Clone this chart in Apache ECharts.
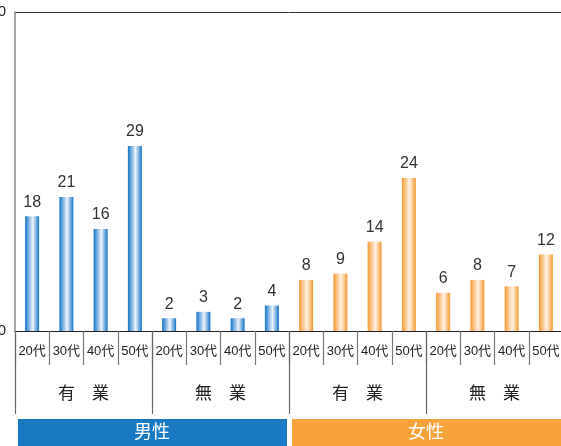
<!DOCTYPE html>
<html><head><meta charset="utf-8">
<script src="https://cdn.jsdelivr.net/npm/echarts@6/dist/echarts.min.js"></script>
<style>html,body{margin:0;padding:0;background:#fff}#c{width:561px;height:446px}</style>
</head><body><div id="c"></div>
<script>
var ages = ['20代','30代','40代','50代','20代','30代','40代','50代','20代','30代','40代','50代','20代','30代','40代','50代'];
var groups = ['有　業','無　業','有　業','無　業'];
var male = [18,21,16,29,2,3,2,4];
var female = [8,9,14,24,6,8,7,12];
var yTicks = [0,50];

var maleData = male.concat(female.map(function(){return null;}));
var femaleData = male.map(function(){return null;}).concat(female);
var FONT = 'Liberation Sans, Arial, Noto Sans CJK JP, sans-serif';

function grad(edge, mid){
  return new echarts.graphic.LinearGradient(0,0,1,0,[
    {offset:0,color:edge},{offset:0.55,color:mid},{offset:1,color:edge}]);
}
var chart = echarts.init(document.getElementById('c'));
chart.setOption({
  animation:false,
  grid:{left:15,right:-2,top:12,bottom:115,containLabel:false,outerBoundsMode:'none'},
  xAxis:[{
    type:'category',data:ages,position:'bottom',
    axisLine:{show:true,lineStyle:{color:'#222',width:1}},
    axisTick:{show:true,length:34,alignWithLabel:false,lineStyle:{color:'#777',width:1.2}},
    axisLabel:{fontSize:13,color:'#222',margin:14,fontFamily:FONT,interval:0}
  },{
    type:'category',data:groups,position:'bottom',offset:0,
    axisLine:{show:false},
    axisTick:{show:true,length:83,lineStyle:{color:'#666',width:1.2}},
    axisLabel:{fontSize:17,color:'#222',margin:55,fontFamily:FONT,interval:0}
  }],
  yAxis:{type:'value',min:yTicks[0],max:yTicks[1],interval:50,
    axisLine:{show:true,lineStyle:{color:'#888',width:1.5}},
    axisTick:{show:false},
    splitLine:{show:true,lineStyle:{color:'#333',width:1}},
    axisLabel:{fontSize:15,color:'#222',margin:9,fontFamily:FONT}
  },
  series:[{
    type:'bar',data:maleData,barWidth:14,barGap:'-100%',
    itemStyle:{color:grad('#1274c8','#eef4fb')},
    label:{show:true,position:'top',distance:6,fontSize:16,color:'#333',fontFamily:FONT}
  },{
    type:'bar',data:femaleData,barWidth:14,barGap:'-100%',
    itemStyle:{color:grad('#f59a33','#fff3e6')},
    label:{show:true,position:'top',distance:6,fontSize:16,color:'#333',fontFamily:FONT}
  }],
  graphic:[
    {type:'rect',shape:{x:18,y:419,width:269,height:27},style:{fill:'#1979c2'}},
    {type:'rect',shape:{x:292,y:419,width:272,height:27},style:{fill:'#f8a23b'}},
    {type:'text',x:152,y:433,style:{text:'男性',fill:'#fff',fontSize:18,fontFamily:FONT,align:'center',verticalAlign:'middle'}},
    {type:'text',x:426,y:433,style:{text:'女性',fill:'#fff',fontSize:18,fontFamily:FONT,align:'center',verticalAlign:'middle'}}
  ]
});
</script></body></html>
